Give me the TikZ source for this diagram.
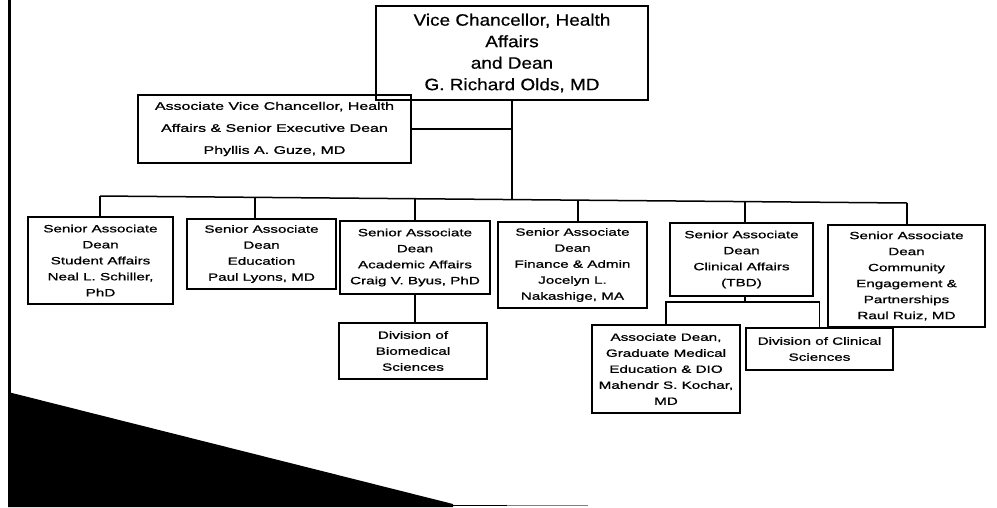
\documentclass[tikz,border=0pt]{standalone}
\usepackage{fontspec}
\setmainfont{Liberation Sans}
\newfontfamily\topfont[FakeStretch=1.15,FakeBold=0.6]{Liberation Sans}
\newfontfamily\rowfont[FakeStretch=1.45,FakeBold=1]{Liberation Sans}
\tikzset{
  box/.style={draw, line width=1.5pt, inner sep=0pt, align=center},
  topbox/.style={box, font=\topfont\fontsize{16.5}{21.5}\selectfont},
  avcbox/.style={box, font=\rowfont\fontsize{11}{22}\selectfont},
  rowbox/.style={box, font=\rowfont\fontsize{10.5}{16}\selectfont},
  link/.style={line width=1.5pt},
}
\begin{document}
\begin{tikzpicture}[x=1pt,y=-1pt]
\useasboundingbox (0,0) rectangle (997,507);
% page furniture
\draw[line width=2.5pt] (9.5,0) -- (9.5,393);
\fill (8,392) -- (453,504) -- (453,507) -- (8,507) -- cycle;
\draw[line width=1.2pt] (453,505.8) -- (507,505.8);
\draw[line width=1.2pt, gray] (507,505.8) -- (588,505.8);

% nodes
\node[topbox, minimum width=272pt, minimum height=94pt] (vc) at (512,53)
  {Vice Chancellor, Health\\Affairs\\and Dean\\G. Richard Olds, MD};
\node[avcbox, minimum width=273pt, minimum height=68pt] (avc) at (274.5,129)
  {Associate Vice Chancellor, Health\\Affairs \& Senior Executive Dean\\Phyllis A. Guze, MD};

\node[rowbox, minimum width=145pt, minimum height=87pt] (b1) at (100.5,260.5)
  {Senior Associate\\Dean\\Student Affairs\\Neal L. Schiller,\\PhD};
\node[rowbox, minimum width=149pt, minimum height=70pt] (b2) at (261.5,254)
  {Senior Associate\\Dean\\Education\\Paul Lyons, MD};
\node[rowbox, minimum width=150pt, minimum height=73pt] (b3) at (415,257.5)
  {Senior Associate\\Dean\\Academic Affairs\\Craig V. Byus, PhD};
\node[rowbox, minimum width=149pt, minimum height=86pt] (b4) at (572.5,265)
  {Senior Associate\\Dean\\Finance \& Admin\\Jocelyn L.\\Nakashige, MA};
\node[rowbox, minimum width=143pt, minimum height=73pt] (b5) at (741.5,259.5)
  {Senior Associate\\Dean\\Clinical Affairs\\(TBD)};
\node[rowbox, minimum width=157pt, minimum height=102pt] (b6) at (906.5,276)
  {Senior Associate\\Dean\\Community\\Engagement \&\\Partnerships\\Raul Ruiz, MD};

\node[rowbox, minimum width=148pt, minimum height=56pt] (dbio) at (413,351)
  {Division of\\Biomedical\\Sciences};
\node[rowbox, minimum width=148pt, minimum height=88pt] (ad) at (666,369)
  {Associate Dean,\\Graduate Medical\\Education \& DIO\\Mahendr S. Kochar,\\MD};
\node[rowbox, minimum width=147pt, minimum height=42pt] (dcs) at (819.5,349)
  {Division of Clinical\\Sciences};

% connectors (the scanned bar is slightly skewed)
\coordinate (j1) at (100,196);
\coordinate (j2) at (255,197.3);
\coordinate (j3) at (415,198.7);
\coordinate (jt) at (512,199.6);
\coordinate (j4) at (578,200.1);
\coordinate (j5) at (745,201.6);
\coordinate (j6) at (907,203);
\draw[link] (vc.south) -- (jt);
\draw[link] (avc.east) -- (avc.east -| vc.south);
\draw[link] (j1) -- (j6);
\draw[link] (j1) -- (j1 |- b1.north);
\draw[link] (j2) -- (j2 |- b2.north);
\draw[link] (j3) -- (j3 |- b3.north);
\draw[link] (j4) -- (j4 |- b4.north);
\draw[link] (j5) -- (j5 |- b5.north);
\draw[link] (j6) -- (j6 |- b6.north);
\draw[link] (b3.south) -- (b3.south |- dbio.north);
\coordinate (c5) at (745,302);
\draw[link] (c5 |- b5.south) -- (c5);
\draw[link] (ad.north) -- (ad.north |- c5) -- (dcs.north |- c5) -- (dcs.north);
\end{tikzpicture}
\end{document}
